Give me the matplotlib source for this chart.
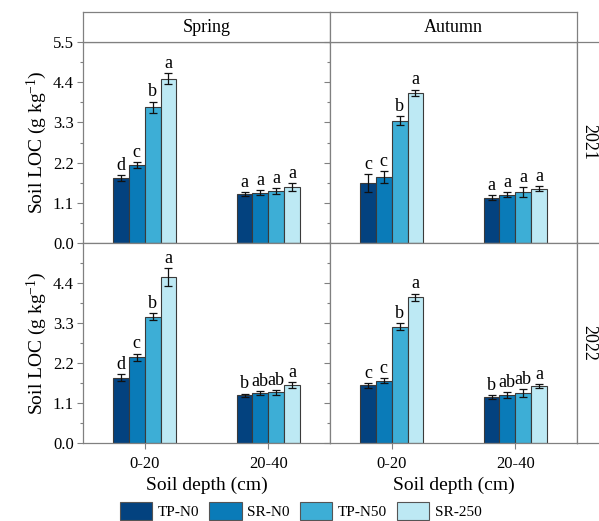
import matplotlib
matplotlib.use("Agg")
import matplotlib.pyplot as plt
from matplotlib.patches import Patch
from matplotlib.ticker import MultipleLocator
import numpy as np

plt.rcParams['font.family'] = ['Liberation Serif', 'DejaVu Serif']
plt.rcParams['mathtext.fontset'] = 'custom'
plt.rcParams['mathtext.rm'] = 'Liberation Serif'
plt.rcParams['mathtext.it'] = 'Liberation Serif:italic'
plt.rcParams['axes.unicode_minus'] = False

depths = ["0-20", "20-40"]
treatments = ["TP-N0", "SR-N0", "TP-N50", "SR-250"]
colors = ["#03427F", "#0A7BB8", "#3DAED6", "#BDE9F4"]
seasons = ["Spring", "Autumn"]
years = ["2021", "2022"]

# values[year][season][treatment] -> [0-20, 20-40]
spring_2021 = [[1.78, 1.34], [2.14, 1.38], [3.72, 1.43], [4.50, 1.53]]
spring_2021_err = [[0.07, 0.06], [0.08, 0.07], [0.15, 0.08], [0.14, 0.11]]
spring_2021_let = [["d", "a"], ["c", "a"], ["b", "a"], ["a", "a"]]

autumn_2021 = [[1.64, 1.24], [1.81, 1.32], [3.35, 1.39], [4.11, 1.49]]
autumn_2021_err = [[0.24, 0.06], [0.16, 0.07], [0.12, 0.14], [0.09, 0.08]]
autumn_2021_let = [["c", "a"], ["c", "a"], ["b", "a"], ["a", "a"]]

spring_2022 = [[1.80, 1.31], [2.36, 1.37], [3.47, 1.39], [4.56, 1.59]]
spring_2022_err = [[0.10, 0.05], [0.10, 0.06], [0.10, 0.06], [0.24, 0.09]]
spring_2022_let = [["d", "b"], ["c", "ab"], ["b", "ab"], ["a", "a"]]

autumn_2022 = [[1.59, 1.26], [1.71, 1.31], [3.20, 1.38], [4.01, 1.57]]
autumn_2022_err = [[0.07, 0.06], [0.07, 0.08], [0.09, 0.11], [0.10, 0.06]]
autumn_2022_let = [["c", "b"], ["c", "ab"], ["b", "ab"], ["a", "a"]]

data = {
    ("2021", "Spring"): (spring_2021, spring_2021_err, spring_2021_let),
    ("2021", "Autumn"): (autumn_2021, autumn_2021_err, autumn_2021_let),
    ("2022", "Spring"): (spring_2022, spring_2022_err, spring_2022_let),
    ("2022", "Autumn"): (autumn_2022, autumn_2022_err, autumn_2022_let),
}

W, H = 599, 521
fig = plt.figure(figsize=(W / 100, H / 100), dpi=100)

def ax_px(x0, y0, x1, y1):
    return fig.add_axes([x0 / W, 1 - y1 / H, (x1 - x0) / W, (y1 - y0) / H])

gray = "#808080"
col_x = [(83, 330), (330, 577)]
row_y = [(42, 243), (243, 443)]
bw = 0.128
x = np.arange(len(depths))

for r, yr in enumerate(years):
    for c, se in enumerate(seasons):
        x0, x1 = col_x[c]
        y0, y1 = row_y[r]
        ax = ax_px(x0, y0, x1, y1)
        vals, errs, lets = data[(yr, se)]
        for i, t in enumerate(treatments):
            pos = x + (i - 1.5) * bw
            ax.bar(pos, vals[i], bw, color=colors[i], edgecolor="#3a3a3a",
                   linewidth=0.8, zorder=2)
            ax.errorbar(pos, vals[i], yerr=errs[i], fmt="none", ecolor="#111111",
                        elinewidth=0.9, capsize=2.8, capthick=0.9, zorder=3)
            for j in range(len(depths)):
                ax.text(pos[j], vals[i][j] + errs[i][j] + 0.03, lets[i][j],
                        ha="center", va="bottom", fontsize=13)
        ax.set_xlim(-0.5, 1.5)
        ax.set_ylim(0, 5.5)
        ax.set_xticks(x)
        ax.yaxis.set_minor_locator(MultipleLocator(0.55))
        if r == 0:
            ax.set_yticks([0, 1.1, 2.2, 3.3, 4.4, 5.5])
        else:
            ax.set_yticks([0, 1.1, 2.2, 3.3, 4.4])
        ax.tick_params(direction="out", color=gray, length=4.5, width=0.8,
                       labelsize=12, pad=2)
        ax.tick_params(axis="x", pad=4.5)
        ax.tick_params(which="minor", direction="out", color=gray, length=2.4,
                       width=0.8)
        ax.tick_params(axis="x", which="minor", bottom=False)
        if c == 0:
            ax.set_yticklabels(["0.0", "1.1", "2.2", "3.3", "4.4", "5.5"][:len(ax.get_yticks())])
            ax.set_ylabel("Soil LOC (g kg$^{-1}$)", fontsize=14, labelpad=3)
        else:
            ax.set_yticklabels([])
        if r == 1:
            ax.set_xticklabels(depths, fontsize=12)
            ax.set_xlabel("Soil depth (cm)", fontsize=14, labelpad=4)
        else:
            ax.set_xticklabels([])
        for s in ax.spines.values():
            s.set_color(gray)
            s.set_linewidth(0.9)
        # top strip
        if r == 0:
            sa = ax_px(x0, 12, x1, 42)
            sa.set_xticks([]); sa.set_yticks([])
            for s in sa.spines.values():
                s.set_color(gray); s.set_linewidth(0.9)
            sa.text(0.5, 0.5, se, ha="center", va="center", fontsize=13,
                    transform=sa.transAxes)
        # right strip
        if c == 1:
            ra = ax_px(577, y0, 606, y1)
            ra.set_xticks([]); ra.set_yticks([])
            for s in ra.spines.values():
                s.set_color(gray); s.set_linewidth(0.9)
            ra.text(0.42, 0.5, yr, ha="center", va="center", fontsize=13,
                    rotation=-90, transform=ra.transAxes)

handles = [Patch(facecolor=colors[i], edgecolor="#555555", linewidth=0.8,
                 label=treatments[i]) for i in range(4)]
fig.legend(handles=handles, loc="upper center", bbox_to_anchor=(0.502, 1 - 502 / H),
           ncol=4, frameon=False, fontsize=11, handlelength=2.1, handleheight=1.45,
           handletextpad=0.35, columnspacing=0.7, borderpad=0.0, borderaxespad=0.0)

fig.savefig("out.png", dpi=100)
